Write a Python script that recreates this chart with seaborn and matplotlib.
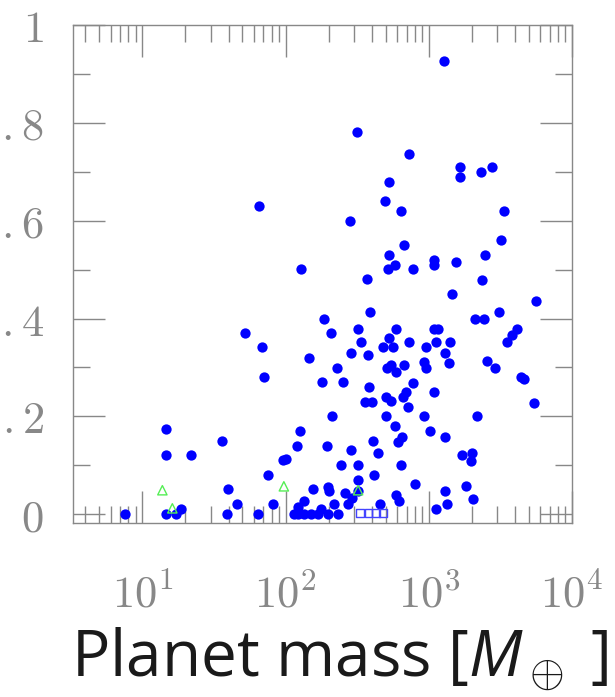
import matplotlib
matplotlib.use("Agg")
import matplotlib.pyplot as plt
import seaborn as sns
import pandas as pd
from matplotlib.ticker import MultipleLocator, NullFormatter, LogLocator

# planet mass [Earth masses] and orbital eccentricity
mass = [1268, 316, 731, 1641, 1641, 2301, 2748, 530, 497, 643,
        3335, 65, 282, 675, 3177, 530, 2455, 1096, 1079, 1538,
        583, 521, 780, 129, 372, 2339, 1442, 5592, 390, 3077,
        2089, 2415, 186, 208, 321, 593, 1096, 1169, 4113, 3793,
        3500, 51.9, 68.2, 337, 530, 731, 1132, 1396, 145, 287,
        378, 481, 565, 964, 1288, 2535, 2884, 70.5, 229, 513,
        543, 593, 675, 933, 964, 1374, 180, 252, 384, 780,
        1079, 4387, 4603, 360, 403, 505, 543, 664, 697, 720,
        5417, 211, 505, 933, 2158, 583, 126, 1012, 1288, 653,
        612, 409, 444, 287, 195, 120, 1694, 1991, 1959, 244,
        321, 643, 416, 321, 806, 1807, 155, 198, 201, 261,
        292, 321, 593, 622, 1288, 2023, 1330, 1132, 458, 218,
        274, 134, 177, 122, 95.8, 100.5, 75.2, 81.5, 14.7, 14.7,
        21.7, 35.8, 39.4, 45.6, 7.6, 14.7, 17.3, 18.5, 38.8, 64.0,
        122, 114, 134, 151, 169, 198, 233]
ecc = [0.927, 0.782, 0.736, 0.710, 0.689, 0.699, 0.710, 0.679, 0.640, 0.619,
       0.619, 0.630, 0.599, 0.550, 0.560, 0.529, 0.529, 0.519, 0.509, 0.515,
       0.509, 0.501, 0.501, 0.501, 0.480, 0.478, 0.451, 0.435, 0.413, 0.413,
       0.400, 0.400, 0.400, 0.371, 0.379, 0.379, 0.379, 0.379, 0.379, 0.367,
       0.351, 0.371, 0.341, 0.351, 0.361, 0.351, 0.351, 0.351, 0.320, 0.330,
       0.326, 0.341, 0.341, 0.341, 0.330, 0.314, 0.299, 0.281, 0.299, 0.299,
       0.304, 0.291, 0.304, 0.312, 0.299, 0.310, 0.271, 0.271, 0.261, 0.269,
       0.250, 0.281, 0.277, 0.230, 0.230, 0.240, 0.232, 0.240, 0.250, 0.219,
       0.228, 0.201, 0.201, 0.201, 0.201, 0.181, 0.170, 0.170, 0.158, 0.158,
       0.148, 0.150, 0.125, 0.131, 0.139, 0.139, 0.121, 0.125, 0.109, 0.101,
       0.101, 0.101, 0.080, 0.070, 0.062, 0.057, 0.051, 0.055, 0.047, 0.043,
       0.033, 0.047, 0.039, 0.027, 0.047, 0.031, 0.021, 0.010, 0.021, 0.021,
       0.021, 0.027, 0.010, 0.014, 0.111, 0.113, 0.080, 0.021, 0.174, 0.121,
       0.121, 0.150, 0.051, 0.021, 0.0, 0.0, 0.0, 0.010, 0.0, 0.0,
       0.0, 0.0, 0.0, 0.0, 0.0, 0.0, 0.0]

# green open triangles
tri_mass = [13.8, 16.2, 97.3, 321]
tri_ecc = [0.049, 0.012, 0.057, 0.049]

# blue open squares near e = 0
sq_mass = [330, 380, 430, 480]
sq_ecc = [0.002, 0.002, 0.002, 0.002]

x_ticks = [10, 100, 1000, 10000]
x_labels = [r"$10^1$", r"$10^2$", r"$10^3$", r"$10^4$"]
y_ticks = [0, 0.2, 0.4, 0.6, 0.8, 1.0]
y_labels = [r"$0$", r"$.2$", r"$.4$", r"$.6$", r"$.8$", r"$1$"]

sns.set_theme(style="ticks")
plt.rcParams["mathtext.fontset"] = "cm"
plt.rcParams["mathtext.rm"] = "Open Sans"
plt.rcParams["mathtext.it"] = "Open Sans:italic"

fig = plt.figure(figsize=(6.15, 6.97), dpi=100)
ax = fig.add_axes([73 / 615, 1 - 523 / 697, 499 / 615, 498 / 697])

df = pd.DataFrame({"mass": mass, "ecc": ecc})
sns.scatterplot(data=df, x="mass", y="ecc", ax=ax, color="#0000ff", s=55, linewidth=0)
sns.scatterplot(x=tri_mass, y=tri_ecc, ax=ax, marker="^", s=45,
                facecolor="none", edgecolor="#55ee55", linewidth=1)
sns.scatterplot(x=sq_mass, y=sq_ecc, ax=ax, marker="s", s=30,
                facecolor="none", edgecolor="#4444ff", linewidth=1)

ax.set_xscale("log")
ax.set_xlim(3.28, 1e4)
ax.set_ylim(-0.018, 1.0)
ax.set_xticks(x_ticks, x_labels)
ax.xaxis.set_minor_locator(LogLocator(base=10, subs=range(2, 10), numticks=20))
ax.xaxis.set_minor_formatter(NullFormatter())
ax.set_yticks(y_ticks, y_labels)
ax.yaxis.set_minor_locator(MultipleLocator(0.1))

grey = "#888888"
ax.tick_params(which="both", direction="in", bottom=True, left=True, top=True, right=True,
               color=grey, width=1)
ax.tick_params(which="major", length=23, labelsize=32, labelcolor=grey)
ax.tick_params(which="minor", length=12)
ax.tick_params(axis="y", pad=21)
ax.tick_params(axis="x", pad=36)
for sp in ax.spines.values():
    sp.set_visible(True)
    sp.set_color(grey)
    sp.set_linewidth(1)

ax.set_xlabel(r"Planet mass [$M_\oplus$ ]", fontsize=46, family="Open Sans",
              color="#1a1a1a", math_fontfamily="custom")
ax.xaxis.label.set_va("center")
ax.xaxis.set_label_coords(0.535, -0.275)
ax.set_ylabel("")

fig.savefig("out.png", dpi=100)
